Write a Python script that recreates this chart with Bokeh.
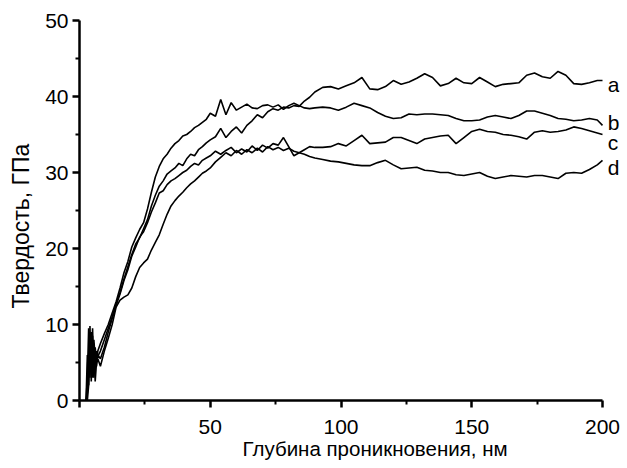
from bokeh.plotting import figure
from bokeh.models import Range1d, FixedTicker, ColumnDataSource, Title
from bokeh.core.properties import value
from bokeh.embed import file_html
from bokeh.resources import INLINE

# depth, nm (shared sampling grid)
depth = [2.5, 3, 3.5, 4, 4.5, 5, 5.5, 6, 6.5, 7,
         8, 9.5, 11, 12.5, 14, 15.5, 17, 18.5, 20, 21.5, 23, 24.5, 26, 27.5, 29,
         30.5, 32, 33.5, 35, 36.5, 38, 39.5, 41, 42.5, 44, 45.5, 47, 48.5, 50,
         52, 54, 56, 58, 60, 62, 64, 66, 68, 70, 72, 74, 76, 78, 80, 82, 84, 86, 88, 90,
         93, 96, 99, 102, 105, 108, 111, 114, 117, 120, 123, 126, 129, 132, 135, 138,
         141, 144, 147, 150, 153, 156, 159, 162, 165, 168, 171, 174, 177, 180, 183, 186,
         189, 192, 195, 198, 200]

# hardness, GPa
hard_a = [0, 3, 9.5, 3, 7.5, 4.5, 8, 5.5, 6.5, 5.8,
          6.5, 8, 9.5, 11, 12.8, 14.2, 16, 17.6, 19.2, 20.6, 21.4, 22.6, 23.8, 25.6, 27,
          28.2, 28.9, 29.8, 30.2, 30.6, 31.2, 30.9, 31.8, 32.4, 32.2, 33.0, 33.4, 33.9, 34.3,
          34.7, 35.8, 34.6, 35.4, 36.0, 35.2, 36.2, 36.8, 37.6, 37.2, 38.0, 38.4, 38.2, 38.6,
          38.5, 38.8, 38.7, 39.4, 39.9, 40.6,
          41.2, 41.3, 41.0, 41.4, 41.8, 42.5, 41.0, 40.9, 41.3, 42.1,
          41.6, 41.9, 42.4, 43.0, 42.5, 41.4, 41.7, 42.4, 41.8, 41.7,
          42.5, 41.9, 41.3, 41.6, 41.7, 41.8, 42.8, 43.1, 42.6, 42.4,
          43.3, 42.8, 41.7, 41.6, 41.8, 42.1, 42.1]

hard_b = [0, 6, 2, 9.8, 4, 8.5, 3.5, 7, 5, 6.5,
          7.5, 8.8, 10, 11.5, 13, 14.8, 16.8, 18.3, 20.2, 21.4, 22.5, 23.4, 25.2, 27.4, 29.4,
          30.8, 31.8, 32.4, 33.2, 33.8, 34.2, 34.8, 35.0, 35.4, 35.9, 36.2, 36.6, 37.0, 37.8,
          37.4, 39.6, 37.6, 39.2, 38.2, 38.6, 39.0, 38.5, 38.4, 38.8, 38.9, 38.6, 38.9, 38.3,
          38.8, 39.1, 38.8, 38.5, 38.4, 38.5,
          38.6, 38.5, 38.2, 38.6, 39.1, 38.8, 38.5, 37.9, 37.4, 37.1,
          37.2, 37.7, 37.6, 37.7, 37.7, 37.6, 37.5, 37.1, 36.8, 36.8,
          36.9, 37.3, 37.5, 37.3, 37.1, 37.5, 38.1, 38.1, 37.8, 37.5,
          37.1, 37.0, 36.8, 36.9, 37.1, 36.9, 36.2]

hard_c = [0, 1, 5, 8, 2.5, 9.5, 3, 6, 4.5, 6,
          5.5, 7, 9, 10.8, 12.5, 14, 15.8, 17.2, 19, 20.2, 21.5, 22.2, 23.4, 24.8, 26,
          27.3, 27.6, 28.4, 28.9, 29.2, 29.6, 30, 30.3, 30.8, 31.2, 31.0, 31.6, 31.9, 32.2,
          32.8, 32.4, 32.9, 33.3, 32.6, 33.1, 32.7, 33.5, 32.9, 33.6, 33.2, 33.8, 33.6, 34.6,
          33.4, 32.2, 32.6, 33.0, 33.4, 33.3,
          33.3, 33.4, 33.8, 33.5, 34.2, 34.9, 33.8, 33.9, 34.0, 34.6,
          34.6, 34.2, 33.8, 34.4, 34.6, 34.8, 34.9, 33.8, 34.6, 35.4,
          35.7, 35.4, 35.3, 35.0, 34.9, 34.7, 34.4, 35.3, 35.5, 35.3,
          35.4, 35.6, 36.0, 35.8, 35.5, 35.2, 35.0]

hard_d = [0, 0, 2, 7, 9, 3, 7.5, 2.5, 5, 5.5,
          4.5, 6.5, 8.2, 10, 12.3, 13.2, 13.6, 13.9, 14.8, 16.3, 17.5, 18.1, 18.6, 19.8, 20.8,
          21.8, 23.2, 24.5, 25.6, 26.3, 26.9, 27.4, 28, 28.5, 28.9, 29.4, 29.9, 30.2, 30.6,
          31.4, 32.0, 32.6, 32.2, 32.9, 32.4, 33.0, 32.6, 33.2, 32.7, 33.4, 33.0, 33.3, 32.9,
          33.2, 32.8, 32.6, 32.4, 32.1, 31.9,
          31.7, 31.5, 31.4, 31.2, 31.0, 30.9, 30.9, 31.3, 31.6, 31.0,
          30.5, 30.6, 30.7, 30.3, 30.2, 30.0, 30.0, 29.7, 29.6, 29.8,
          30.0, 29.5, 29.2, 29.4, 29.6, 29.5, 29.4, 29.6, 29.6, 29.4,
          29.2, 29.9, 30.0, 29.9, 30.4, 31.0, 31.6]

curve_names = ["a", "b", "c", "d"]
curve_label_x = [202, 202, 202, 202]
curve_label_y = [41.6, 36.6, 34.0, 30.7]

x_ticks = [0, 50, 100, 150, 200]
x_minor = [25, 75, 125, 175]
y_ticks = [0, 10, 20, 30, 40, 50]
y_minor = [5, 15, 25, 35, 45]

x_title = "Глубина проникновения, нм"
y_title = "Твердость, ГПа"

FONT = "Liberation Sans"

p = figure(width=620, height=467, output_backend="svg", toolbar_location=None,
           x_range=Range1d(0, 206.5), y_range=Range1d(0, 50),
           min_border_left=79, min_border_right=1, min_border_top=20,
           min_border_bottom=67)
p.grid.visible = False
p.outline_line_color = None
p.background_fill_color = "white"
p.border_fill_color = "white"

for ax in (p.xaxis[0], p.yaxis[0]):
    ax.axis_line_width = 2.5
    ax.axis_line_color = "black"
    ax.major_tick_line_width = 2.5
    ax.minor_tick_line_width = 2
    ax.major_tick_out = 7
    ax.major_tick_in = 0
    ax.minor_tick_out = 4
    ax.minor_tick_in = 0
    ax.major_label_text_font = FONT
    ax.major_label_text_font_size = "21px"
    ax.major_label_text_color = "black"

p.xaxis.bounds = (0, 200)
p.xaxis.ticker = FixedTicker(ticks=x_ticks, minor_ticks=x_minor)
p.xaxis.major_label_overrides = {0: ""}
p.xaxis.major_label_standoff = 12
p.yaxis.ticker = FixedTicker(ticks=y_ticks, minor_ticks=y_minor)
p.yaxis.major_label_standoff = 4

for ys in (hard_a, hard_b, hard_c, hard_d):
    p.line(depth, ys, line_color="black", line_width=1.6)

src = ColumnDataSource(dict(x=curve_label_x, y=curve_label_y, t=curve_names))
p.text(x="x", y="y", text="t", source=src, text_font=value(FONT),
       text_font_size="21px", text_baseline="alphabetic", text_align="left",
       text_color="black")

p.add_layout(Title(text=x_title, align="left", offset=163, standoff=0,
                   vertical_align="top",
                   text_font=FONT, text_font_size="20.5px",
                   text_font_style="normal", text_color="black"), "below")
p.add_layout(Title(text=y_title, align="left", offset=92, standoff=14,
                   vertical_align="top",
                   text_font=FONT, text_font_size="23px",
                   text_font_style="normal", text_color="black"), "left")

open("out.html", "w").write(file_html(p, INLINE))
